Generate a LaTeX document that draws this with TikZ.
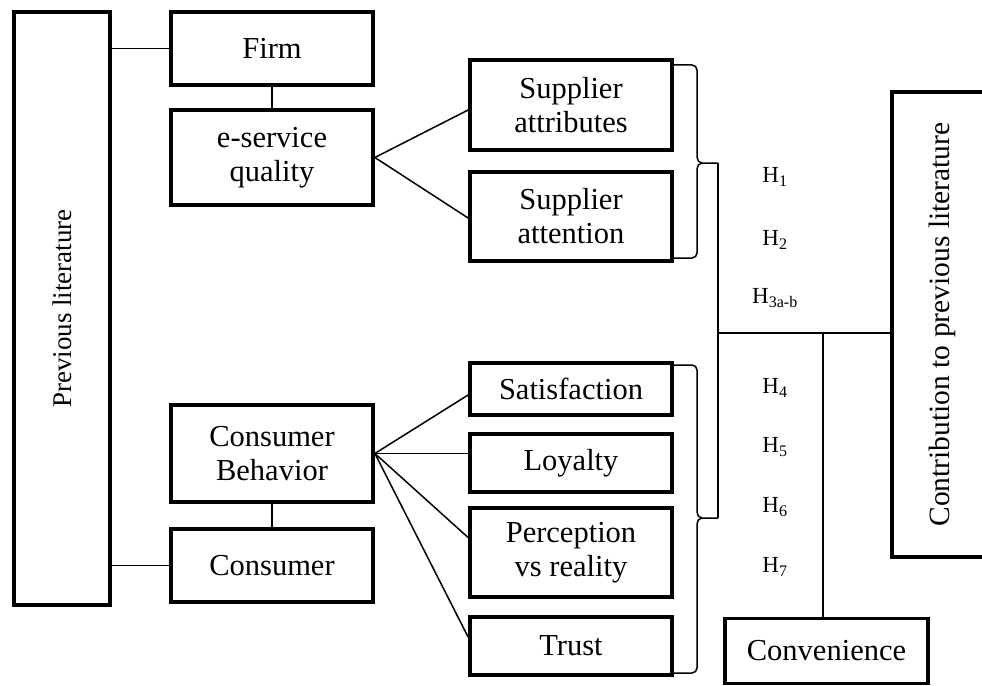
\documentclass[tikz,border=0pt]{standalone}
\usepackage{fontspec}
\setmainfont{Liberation Serif}
\usetikzlibrary{calc}
\begin{document}
\begin{tikzpicture}[x=1pt,y=-1pt,
  box/.style={draw,line width=3.8pt,rectangle,align=center,inner sep=0pt,
    font=\fontsize{30.5}{34}\selectfont},
  link/.style={line width=1.5pt},
  brace/.style={line width=1.5pt,line join=round},
  hyp/.style={font=\fontsize{23}{26}\selectfont,inner sep=0pt}]
\clip (0,0) rectangle (982,685);
\fill[white] (0,0) rectangle (982,685);

% left column
\node[box,minimum width=96pt,minimum height=593pt] (prev) at (62,308.5)
  {\rotatebox{90}{\fontsize{27}{30}\selectfont Previous literature}};
\node[box,minimum width=202pt,minimum height=73pt] (firm) at (272,48.5) {Firm};
\node[box,minimum width=202pt,minimum height=95pt] (esq) at (272,157.5) {e-service\\quality};
\node[box,minimum width=202pt,minimum height=97pt] (cb) at (272,453.5) {Consumer\\Behavior};
\node[box,minimum width=202pt,minimum height=73pt] (cons) at (272,565.5) {Consumer};

% middle column
\node[box,minimum width=202pt,minimum height=90pt] (sattr) at (571,105) {Supplier\\attributes};
\node[box,minimum width=202pt,minimum height=89pt] (satt) at (571,216.5) {Supplier\\attention};
\node[box,minimum width=202pt,minimum height=52pt] (satis) at (571,389) {Satisfaction};
\node[box,minimum width=202pt,minimum height=58pt] (loy) at (571,463) {Loyalty};
\node[box,minimum width=202pt,minimum height=89pt] (perc) at (571,552.5) {Perception\\vs reality};
\node[box,minimum width=202pt,minimum height=58pt] (trust) at (571,646) {Trust};

% right side
\node[box,minimum width=100pt,minimum height=465pt] (contr) at (942,324.5)
  {\rotatebox{90}{\fontsize{29.5}{32}\selectfont Contribution to previous literature}};
\node[box,minimum width=203pt,minimum height=65pt] (conv) at (826.5,651) {Convenience};

% hypotheses
\node[hyp] (h1) at (775,177) {H\textsubscript{1}};
\node[hyp] (h2) at (775,240) {H\textsubscript{2}};
\node[hyp] (h3) at (775,298) {H\textsubscript{3a-b}};
\node[hyp] (h4) at (775,388) {H\textsubscript{4}};
\node[hyp] (h5) at (775,447) {H\textsubscript{5}};
\node[hyp] (h6) at (775,507) {H\textsubscript{6}};
\node[hyp] (h7) at (775,567) {H\textsubscript{7}};

% connectors on the left
\draw[link] (firm.west) -- (firm.west -| prev.east);
\draw[link] (cons.west) -- (cons.west -| prev.east);
\draw[link] (firm.south) -- (esq.north);
\draw[link] (cb.south) -- (cons.north);

% fan-out lines
\draw[link] (esq.east) -- ($(sattr.west)+(0,5)$);
\draw[link] (esq.east) -- ($(satt.west)+(0,1.5)$);
\draw[link] (cb.east) -- ($(satis.west)+(0,6)$);
\draw[link] (cb.east) -- (loy.west |- cb.east);
\draw[link] (cb.east) -- ($(perc.west)+(0,-15)$);
\draw[link] (cb.east) -- ($(trust.west)+(0,-9)$);

% braces
\coordinate (tipA) at (718,163);
\coordinate (tipB) at (718,518);
\coordinate (hub) at (718,333);
\coordinate (drop) at (823,333);
\draw[brace] (672,65) -- (692,65) to[out=0,in=90] (697,70) -- (697,157)
  to[out=-90,in=180] (702,163) -- (tipA);
\draw[brace] (702,163) to[out=180,in=90] (697,169) -- (697,253)
  to[out=-90,in=0] (692,258) -- (672,258);
\draw[brace] (672,365) -- (692,365) to[out=0,in=90] (697,370) -- (697,512)
  to[out=-90,in=180] (702,518) -- (tipB);
\draw[brace] (702,518) to[out=180,in=90] (697,524) -- (697,668)
  to[out=-90,in=0] (692,673) -- (672,673);

% joining lines
\draw[link] (tipA) -- (tipB);
\draw[link] (hub) -- (hub -| contr.west);
\draw[link] (drop) -- (drop |- conv.north);
\end{tikzpicture}
\end{document}
